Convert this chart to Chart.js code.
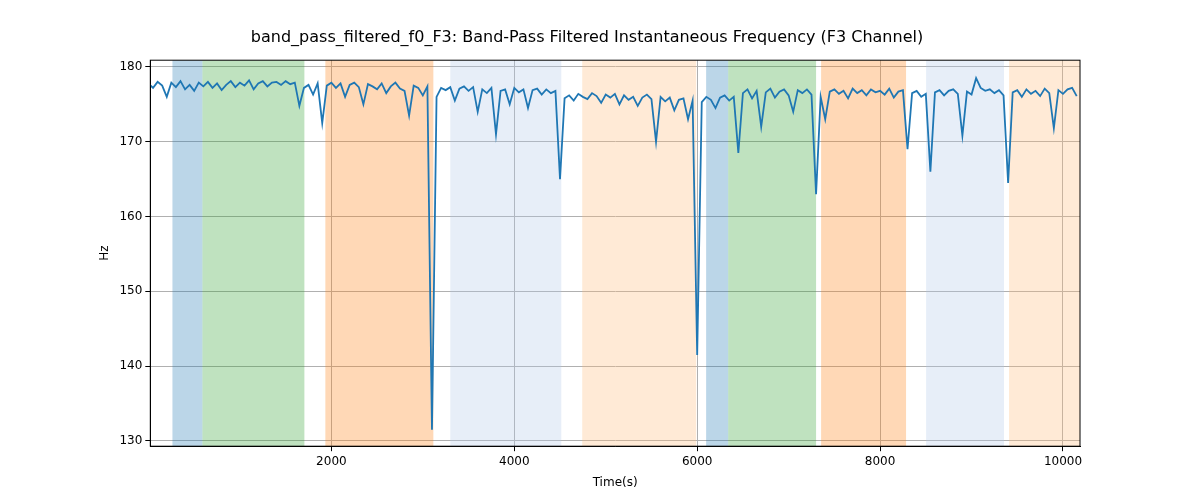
<!DOCTYPE html>
<html><head><meta charset="utf-8">
<script src="https://cdn.jsdelivr.net/npm/chart.js@4"></script>
<style>body{margin:0;background:#fff}#w{width:1200px;height:500px}</style>
</head><body><div id="w"><canvas id="c"></canvas></div>
<script>
const values = [
177.8,177.2,178.0,177.5,176.0,177.9,177.3,178.1,177.0,177.6,
176.8,177.9,177.4,178.0,177.2,177.8,176.9,177.6,178.1,177.3,
177.9,177.5,178.2,177.0,177.8,178.1,177.4,177.9,178.0,177.6,
178.1,177.7,177.9,174.8,177.2,177.6,176.3,177.8,172.5,177.5,
177.9,177.2,177.8,176.0,177.6,177.9,177.3,175.0,177.7,177.4,
177.0,177.8,176.5,177.4,177.9,177.1,176.8,173.5,177.5,177.2,
176.2,177.4,131.5,176.0,177.2,176.9,177.3,175.5,177.1,177.4,
176.8,177.3,174.0,177.0,176.5,177.2,171.0,176.8,177.0,175.0,
177.2,176.6,177.0,174.5,176.9,177.1,176.3,177.0,176.5,176.8,
165.0,175.8,176.2,175.5,176.4,176.0,175.7,176.5,176.1,175.2,
176.3,175.9,176.4,175.0,176.2,175.6,176.0,174.8,175.9,176.3,
175.7,170.0,176.0,175.4,175.9,174.2,175.6,175.8,173.0,175.5,
141.5,175.3,176.0,175.6,174.5,175.9,176.2,175.5,176.0,168.5,
176.5,177.0,175.8,176.8,172.0,176.6,177.1,175.9,176.7,177.0,
176.2,174.0,176.9,176.5,177.0,176.3,163.0,176.0,173.0,176.7,
177.0,176.4,176.8,175.8,177.1,176.5,176.9,176.2,177.0,176.6,
176.8,176.3,177.1,175.9,176.7,176.9,169.0,176.5,176.8,176.0,
176.4,166.0,176.6,176.9,176.2,176.8,177.0,176.4,170.8,176.7,
176.3,178.5,177.2,176.8,177.0,176.5,176.9,176.2,164.5,176.6,
176.9,176.0,177.0,176.4,176.8,176.1,177.1,176.5,171.8,176.9,
176.4,177.0,177.2,176.1];
const times = values.map((v,i)=>i*50);
const xTicks = [2000,4000,6000,8000,10000];
const yTicks = [130,140,150,160,170,180];
const spanStart = [262,590,1934,3300,4743,6098,6339,7355,8503,9410];
const spanEnd   = [590,1705,3115,4514,5989,6339,7300,8284,9355,10186];
const spanColor = ['rgba(31,119,180,0.3)','rgba(44,160,44,0.3)','rgba(255,127,14,0.3)','rgba(174,199,232,0.3)','rgba(255,187,120,0.3)',
                   'rgba(31,119,180,0.3)','rgba(44,160,44,0.3)','rgba(255,127,14,0.3)','rgba(174,199,232,0.3)','rgba(255,187,120,0.3)'];
const spans = {id:'spans',beforeDatasetsDraw(ch){const {ctx,chartArea:a,scales:{x}}=ch;ctx.save();
 spanStart.forEach((s,i)=>{const l=Math.max(x.getPixelForValue(s),a.left),r=Math.min(x.getPixelForValue(spanEnd[i]),a.right);ctx.fillStyle=spanColor[i];ctx.fillRect(l,a.top,r-l,a.bottom-a.top);});ctx.restore();},
 afterDraw(ch){const {ctx,chartArea:a}=ch;ctx.save();ctx.strokeStyle='#000';ctx.lineWidth=1;ctx.strokeRect(a.left,a.top,a.right-a.left,a.bottom-a.top);ctx.restore();}};
const F={family:'DejaVu Sans',size:12};
new Chart(document.getElementById('c'),{type:'line',
 data:{datasets:[{data:times.map((t,i)=>({x:t,y:values[i]})),borderColor:'#1f77b4',borderWidth:1.8,pointRadius:0,tension:0}]},
 options:{responsive:true,maintainAspectRatio:false,animation:false,
  layout:{padding:{left:94,right:120,top:28,bottom:6}},
  plugins:{legend:{display:false},tooltip:{enabled:false},
   title:{display:true,text:'band_pass_filtered_f0_F3: Band-Pass Filtered Instantaneous Frequency (F3 Channel)',color:'#000',font:{family:'DejaVu Sans',size:16,weight:'normal'},padding:{bottom:13}}},
  scales:{
   x:{type:'linear',min:20,max:10186,border:{color:'#000'},grid:{color:'#b0b0b0',tickColor:'#000',tickLength:5},
      ticks:{color:'#000',font:F,maxRotation:0,callback:v=>String(v)},
      afterBuildTicks:ax=>{ax.ticks=xTicks.map(v=>({value:v}));},
      title:{display:true,text:'Time(s)',color:'#000',font:F}},
   y:{min:129.3,max:180.9,border:{color:'#000'},grid:{color:'#b0b0b0',tickColor:'#000',tickLength:5},
      afterBuildTicks:ax=>{ax.ticks=yTicks.map(v=>({value:v}));},
      ticks:{color:'#000',font:F,callback:v=>String(v)},
      title:{display:true,text:'Hz',color:'#000',font:F}}}},
 plugins:[spans]});
</script></body></html>
